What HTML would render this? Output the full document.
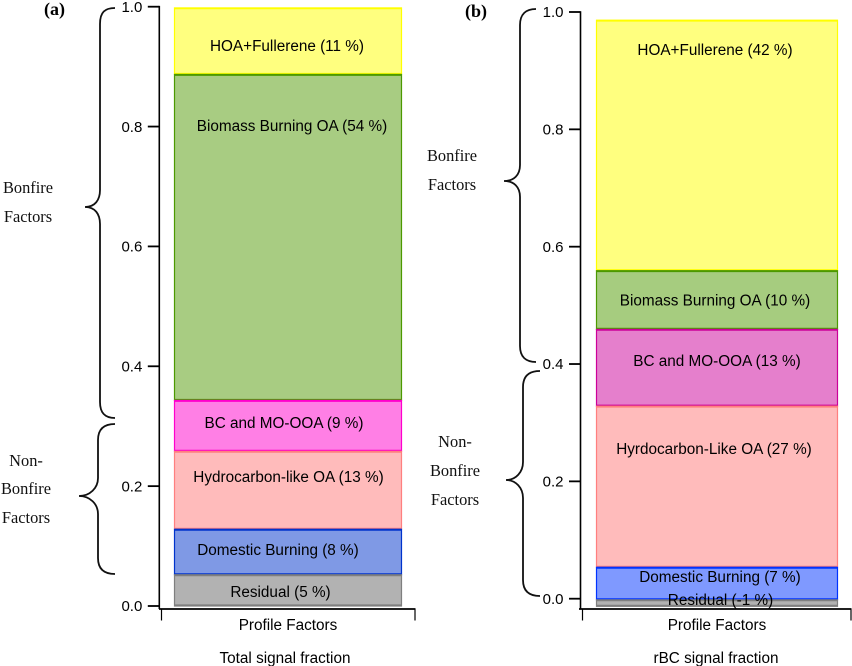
<!DOCTYPE html>
<html>
<head>
<meta charset="utf-8">
<title>Signal fraction profile factors</title>
<style>
html,body{margin:0;padding:0;background:#fff;}
svg{display:block;}
.sans{font-family:"Liberation Sans",Arial,sans-serif;font-size:15.3px;fill:#000;}
.tick{font-family:"Liberation Sans",Arial,sans-serif;font-size:15px;fill:#000;}
.serif{font-family:"Liberation Serif","Times New Roman",serif;font-size:16.4px;fill:#111;}
.bold{font-family:"Liberation Serif","Times New Roman",serif;font-size:18px;font-weight:bold;fill:#000;}
.brace{fill:none;stroke:#111;stroke-width:1.8;}
</style>
</head>
<body>
<svg id="chart" xmlns="http://www.w3.org/2000/svg" width="852" height="666" viewBox="0 0 852 666">
  <g id="panel-a"></g>
  <g id="panel-b"></g>

  <text class="bold" x="44" y="15">(a)</text>
  <text class="bold" x="465" y="17">(b)</text>

  <path class="brace" d="M115 8 C105 8 100 12 100 24 L100 190 C100 200 95 207 85 207 C95 207 100 214 100 224 L100 402 C100 413 105 418 115 418"/>
  <path class="brace" d="M115 424 C104 424 98 429 98 440 L98 478 C98 488 90 496 79 496 C90 496 98 504 98 514 L98 558 C98 569 104 574 115 574"/>
  <path class="brace" d="M536 9 C526 9 520 14 520 25 L520 165 C520 175 514 181 504 181 C514 181 520 187 520 197 L520 346 C520 357 526 362 536 362"/>
  <path class="brace" d="M540 371 C529 371 523 376 523 387 L523 462 C523 472 516 480 506 480 C516 480 523 488 523 498 L523 580 C523 591 529 596 540 596"/>

  <g text-anchor="middle">
    <text class="serif" x="28" y="193">Bonfire</text>
    <text class="serif" x="28" y="222">Factors</text>
    <text class="serif" x="26" y="466">Non-</text>
    <text class="serif" x="26" y="494">Bonfire</text>
    <text class="serif" x="26" y="523">Factors</text>
    <text class="serif" x="452" y="161">Bonfire</text>
    <text class="serif" x="452" y="190">Factors</text>
    <text class="serif" x="455" y="447">Non-</text>
    <text class="serif" x="455" y="476">Bonfire</text>
    <text class="serif" x="455" y="505">Factors</text>
    <text class="sans" x="288" y="630">Profile Factors</text>
    <text class="sans" x="717" y="630">Profile Factors</text>
    <text class="sans" x="285" y="663">Total signal fraction</text>
    <text class="sans" x="716" y="663">rBC signal fraction</text>
  </g>
</svg>
<script>
// Shared axis ticks
const tickValues = [0, 0.2, 0.4, 0.6, 0.8, 1.0];
const tickLabels = ['0.0', '0.2', '0.4', '0.6', '0.8', '1.0'];

// Panel (a): stacked segment sizes, bottom to top
const factorsA = ['Residual (5 %)', 'Domestic Burning (8 %)', 'Hydrocarbon-like OA (13 %)', 'BC and MO-OOA (9 %)', 'Biomass Burning OA (54 %)', 'HOA+Fullerene (11 %)'];
const valuesA = [0.052, 0.076, 0.130, 0.085, 0.544, 0.111];
const baseA = 0;

// Panel (b): stacked segment sizes, bottom to top
const factorsB = ['Residual (-1 %)', 'Domestic Burning (7 %)', 'Hyrdocarbon-Like OA (27 %)', 'BC and MO-OOA (13 %)', 'Biomass Burning OA (10 %)', 'HOA+Fullerene (42 %)'];
const valuesB = [0.011, 0.0555, 0.2745, 0.131, 0.100, 0.427];
const baseB = -0.013;

const SVG_NS = 'http://www.w3.org/2000/svg';

function scaleA(v) { return 606 - v * 599.3; }
function scaleB(v) { return 598.7 - v * 586.7; }

function make(parent, tag, attrs) {
  const el = document.createElementNS(SVG_NS, tag);
  Object.keys(attrs).forEach(function (k) { el.setAttribute(k, attrs[k]); });
  parent.appendChild(el);
  return el;
}

function drawPanel(cfg) {
  const g = document.getElementById(cfg.id);

  // Stack bounds are accumulated bottom-up; painting runs top-down so each
  // lower segment's top edge sits above the neighbour's bottom edge.
  const bounds = [];
  let running = cfg.base;
  cfg.values.forEach(function (value) {
    bounds.push([running, running + value]);
    running += value;
  });

  for (let i = cfg.values.length - 1; i >= 0; i--) {
    const y0 = cfg.scale(bounds[i][0]);
    const y1 = cfg.scale(bounds[i][1]);
    const style = cfg.styles[i];
    const rect = make(g, 'rect', {
      x: cfg.barLeft, y: y1, width: cfg.barRight - cfg.barLeft, height: Math.max(y0 - y1, 0.5),
      fill: style[0], stroke: style[1], 'stroke-width': 1.2
    });
    
    
    const edgeTop = make(g, 'line', {
      x1: cfg.barLeft, x2: cfg.barRight, y1: y1 + 0.5, y2: y1 + 0.5, stroke: style[1], 'stroke-width': 1.8
    });
    
    
    const edgeBottom = make(g, 'line', {
      x1: cfg.barLeft, x2: cfg.barRight, y1: y0 - 0.8, y2: y0 - 0.8, stroke: style[1], 'stroke-width': 1.6
    });
    
    
  }

  cfg.values.forEach(function (value, i) {
    const top = cfg.scale(bounds[i][1]);
    const label = make(g, 'text', {
      x: cfg.labelX[i], y: top + cfg.labelDy[i], 'text-anchor': 'middle', 'class': 'sans'
    });
    
    
    label.textContent = cfg.factors[i];
  });

  const axisY = make(g, 'line', {
    x1: cfg.axisX, x2: cfg.axisX, y1: cfg.scale(1) - 0.8, y2: 609, stroke: '#000', 'stroke-width': 1.6
  });
  
  

  tickValues.forEach(function (t, i) {
    const y = cfg.scale(t);
    const tick = make(g, 'line', {
      x1: cfg.axisX - 11.5, x2: cfg.axisX, y1: y, y2: y, stroke: '#000', 'stroke-width': 1.8
    });
    
    
    const lab = make(g, 'text', {
      x: cfg.axisX - 17, y: y + 5.2, 'text-anchor': 'end', 'class': 'tick'
    });
    
    
    lab.textContent = tickLabels[i];
  });

  const axisX = make(g, 'line', {
    x1: cfg.xAxisLeft, x2: cfg.xAxisRight, y1: 609, y2: 609, stroke: '#000', 'stroke-width': 1.8
  });
  
  
  [cfg.xTickLeft, cfg.xTickRight].forEach(function (x) {
    const tk = make(g, 'line', { x1: x, x2: x, y1: 609, y2: 620.5, stroke: '#000', 'stroke-width': 1.2 });
    
    
  });
}

const stylesA = [['#B2B2B2', '#7F7F7F'], ['#7F99E5', '#0033CC'], ['#FFBBBB', '#FF7F7F'], ['#FF7FE5', '#FF00CC'], ['#A8CC82', '#4C9900'], ['#FFFF7F', '#FFFF00']];
const stylesB = [['#B2B2B2', '#7F7F7F'], ['#7F99FF', '#0033FF'], ['#FFBBBB', '#FF7F7F'], ['#E57FCC', '#CC0099'], ['#A6CC7F', '#4C9900'], ['#FFFF7F', '#FFFF00']];

drawPanel({
  id: 'panel-a', scale: scaleA, factors: factorsA, values: valuesA, base: baseA, styles: stylesA,
  barLeft: 174.5, barRight: 401.5, axisX: 159.3, xAxisLeft: 159, xAxisRight: 415.5, xTickLeft: 161.5, xTickRight: 415,
  labelX: [280.5, 278, 288.5, 284, 292, 287],
  labelDy: [22, 25.5, 30.5, 27.5, 56.5, 43]
});
drawPanel({
  id: 'panel-b', scale: scaleB, factors: factorsB, values: valuesB, base: baseB, styles: stylesB,
  barLeft: 596.5, barRight: 837.5, axisX: 580.5, xAxisLeft: 579, xAxisRight: 851.5, xTickLeft: 582.5, xTickRight: 851,
  labelX: [720.5, 720, 714, 717, 715, 715],
  labelDy: [5, 14.5, 47.5, 36.5, 35, 35]
});
</script>
</body>
</html>
